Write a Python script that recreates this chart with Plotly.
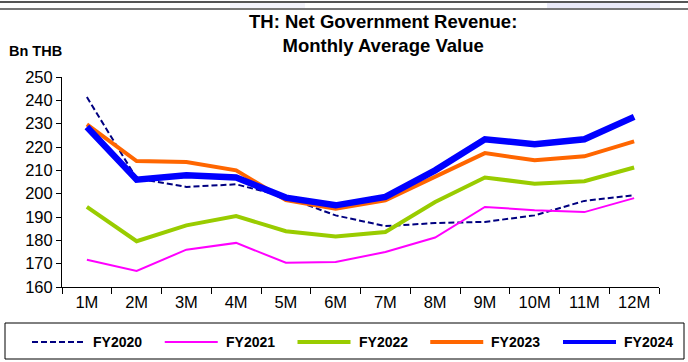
import plotly.graph_objects as go

# Monthly average net government revenue, Bn THB
months = ["1M", "2M", "3M", "4M", "5M", "6M", "7M", "8M", "9M", "10M", "11M", "12M"]
fy2020 = [241.4, 206.5, 202.9, 204.0, 198.5, 190.7, 186.1, 187.4, 187.9, 190.7, 196.9, 199.3]
fy2021 = [171.7, 166.9, 176.0, 178.9, 170.4, 170.7, 175.0, 181.2, 194.3, 192.9, 192.1, 198.1]
fy2022 = [194.3, 179.6, 186.4, 190.4, 183.9, 181.7, 183.6, 196.4, 206.9, 204.3, 205.3, 211.2]
fy2023 = [229.7, 214.0, 213.6, 210.0, 197.2, 193.6, 197.2, 207.1, 217.4, 214.3, 216.0, 222.4]
fy2024 = [228.6, 206.0, 207.9, 206.9, 198.3, 195.0, 198.6, 210.0, 223.3, 221.2, 223.3, 232.9]

y_ticks = [160, 170, 180, 190, 200, 210, 220, 230, 240, 250]

FONT = "Arial, Liberation Sans, sans-serif"
W, H = 688, 362
ML, MR, MT, MB = 62, 29, 77, 75
PW, PH = W - ML - MR, H - MT - MB


def px_x(px):
    """Pixel column -> paper x."""
    return (px - ML) / PW


def px_y(py):
    """Pixel row (from top) -> paper y."""
    return (H - MB - py) / PH


series = [
    ("FY2020", fy2020, "#000080", 2, "6px,3px"),
    ("FY2021", fy2021, "#FF00FF", 2, "solid"),
    ("FY2022", fy2022, "#99CC00", 4, "solid"),
    ("FY2023", fy2023, "#FF6600", 4, "solid"),
    ("FY2024", fy2024, "#0000FF", 6.5, "solid"),
]

fig = go.Figure()
for name, vals, color, width, dash in series:
    fig.add_trace(go.Scatter(
        x=months, y=vals, name=name, mode="lines",
        line=dict(color=color, width=width, dash=dash),
        showlegend=False,
    ))

shapes = [
    # legend frame
    dict(type="rect", xref="paper", yref="paper",
         x0=px_x(5), x1=px_x(684), y0=px_y(359), y1=px_y(323),
         line=dict(color="#000000", width=1), fillcolor="rgba(0,0,0,0)"),
    # page header rules
    dict(type="rect", xref="paper", yref="paper", x0=px_x(230), x1=px_x(305),
         y0=px_y(8), y1=px_y(3), line=dict(width=0), fillcolor="#f3f3fb", layer="below"),
    dict(type="rect", xref="paper", yref="paper", x0=px_x(547), x1=px_x(660),
         y0=px_y(8), y1=px_y(3), line=dict(width=0), fillcolor="#e9e9f7", layer="below"),
    dict(type="line", xref="paper", yref="paper", x0=px_x(0), x1=px_x(W), y0=px_y(2), y1=px_y(2),
         line=dict(color="#555555", width=2)),
    dict(type="line", xref="paper", yref="paper", x0=px_x(0), x1=px_x(W), y0=px_y(9), y1=px_y(9),
         line=dict(color="#777777", width=2)),
]

annotations = [
    dict(text="<b>TH: Net Government Revenue:<br>Monthly Average Value</b>",
         xref="paper", yref="paper", x=px_x(383), y=px_y(33), xanchor="center", yanchor="middle",
         showarrow=False, font=dict(family=FONT, size=18.5, color="#000000")),
    dict(text="<b>Bn THB</b>", xref="paper", yref="paper", x=px_x(7), y=px_y(51),
         xanchor="left", yanchor="middle", showarrow=False,
         font=dict(family=FONT, size=14.5, color="#000000")),
]

# Legend row: sample line followed by the series name
legend_y = px_y(342)
for i, (name, vals, color, width, dash) in enumerate(series):
    text_x = 93 + i * 132.75
    shapes.append(dict(type="line", xref="paper", yref="paper",
                       x0=px_x(text_x - 61), x1=px_x(text_x - 8), y0=legend_y, y1=legend_y,
                       line=dict(color=color, width=min(width, 4), dash=dash)))
    annotations.append(dict(text="<b>%s</b>" % name, xref="paper", yref="paper",
                            x=px_x(text_x - 2), y=legend_y, xanchor="left", yanchor="middle",
                            showarrow=False, font=dict(family=FONT, size=14, color="#000000")))

fig.update_layout(
    width=W, height=H,
    margin=dict(l=ML, r=MR, t=MT, b=MB, autoexpand=False),
    paper_bgcolor="white", plot_bgcolor="white",
    font=dict(family=FONT, color="#000000"),
    showlegend=False,
    xaxis=dict(
        type="category", range=[-0.5, 11.5],
        showline=True, linecolor="#000000", linewidth=1,
        ticks="outside", tickson="boundaries", ticklen=6, tickcolor="#000000",
        showgrid=False, zeroline=False,
        tickfont=dict(family=FONT, size=16.5, color="#000000"),
    ),
    yaxis=dict(
        range=[160, 250], tickvals=y_ticks,
        showline=True, linecolor="#000000", linewidth=1,
        ticks="outside", ticklen=5, tickcolor="#000000",
        showgrid=False, zeroline=False,
        tickfont=dict(family=FONT, size=16.5, color="#000000"),
    ),
    shapes=shapes,
    annotations=annotations,
)

fig.write_html("out.html")
